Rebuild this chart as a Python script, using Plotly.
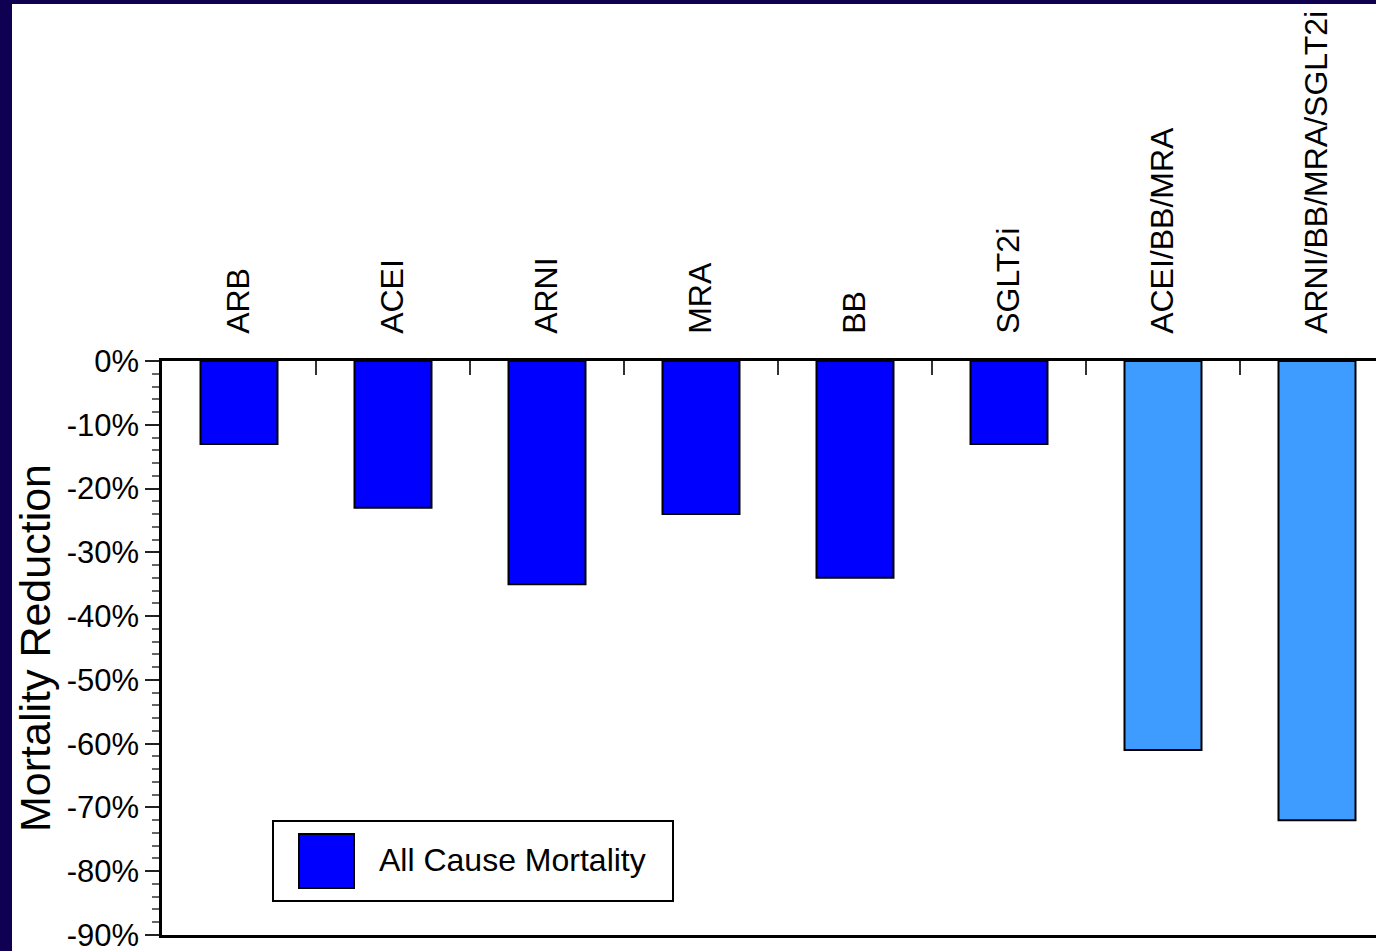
import plotly.graph_objects as go

# Heart-failure therapies and their relative reduction in all-cause mortality
therapies = ["ARB", "ACEI", "ARNI", "MRA", "BB", "SGLT2i",
             "ACEI/BB/MRA", "ARNI/BB/MRA/SGLT2i"]
mortality_reduction = [-13, -23, -35, -24, -34, -13, -61, -72]
series_name = "All Cause Mortality"
y_tick_values = [0, -10, -20, -30, -40, -50, -60, -70, -80, -90]
y_tick_labels = ["0%", "-10%", "-20%", "-30%", "-40%",
                 "-50%", "-60%", "-70%", "-80%", "-90%"]

# styling
SINGLE_COLOR = "#0000ff"
COMBO_COLOR = "#3e9bff"
NAVY = "#0f0052"
FONT = "Liberation Sans, Arial, Helvetica, sans-serif"

W, H = 1376, 951
ML, MR, MT, MB = 162, 0, 361, 16
PW, PH = W - ML - MR, H - MT - MB
CAT_PX = 154  # pixel width of one category slot


def fx(px):
    """pixel x -> paper x"""
    return (px - ML) / PW


def fy(py):
    """pixel y (from top) -> paper y"""
    return (H - MB - py) / PH


bar_colors = [COMBO_COLOR if "/" in t else SINGLE_COLOR for t in therapies]

fig = go.Figure(
    go.Bar(
        x=therapies,
        y=mortality_reduction,
        name=series_name,
        width=0.5,
        marker=dict(color=bar_colors, line=dict(color="black", width=2)),
        showlegend=False,
        hoverinfo="x+y",
    )
)

fig.update_layout(
    width=W,
    height=H,
    margin=dict(l=ML, r=MR, t=MT, b=MB, autoexpand=False),
    paper_bgcolor="white",
    plot_bgcolor="white",
    font=dict(family=FONT, color="black", size=31),
    bargap=0.5,
)

fig.update_xaxes(
    type="category",
    side="top",
    range=[-0.5, -0.5 + PW / CAT_PX],
    tickangle=-90,
    tickfont=dict(size=32),
    ticks="inside",
    tickson="boundaries",
    ticklen=14,
    tickwidth=1.5,
    tickcolor="#333",
    ticklabelstandoff=18,
    showline=True,
    linecolor="black",
    linewidth=2.5,
    mirror=True,
    showgrid=False,
    zeroline=False,
    automargin=False,
)

fig.update_yaxes(
    range=[-90, 0],
    tickmode="array",
    tickvals=y_tick_values,
    ticktext=y_tick_labels,
    tickfont=dict(size=31),
    ticklabeloverflow="allow",
    ticks="outside",
    ticklen=14,
    tickwidth=2,
    tickcolor="#222",
    minor=dict(dtick=2, ticks="outside", ticklen=7, tickwidth=1.5, tickcolor="#666"),
    showline=True,
    linecolor="black",
    linewidth=2.5,
    showgrid=False,
    zeroline=False,
    title=dict(text="Mortality Reduction", font=dict(size=43), standoff=3),
    automargin=False,
)

# navy frame strips along the left and top edges
fig.add_shape(type="rect", xref="paper", yref="paper",
              x0=fx(0), x1=fx(12), y0=fy(H), y1=fy(0),
              fillcolor=NAVY, line_width=0, layer="above")
fig.add_shape(type="rect", xref="paper", yref="paper",
              x0=fx(0), x1=fx(W), y0=fy(4), y1=fy(0),
              fillcolor=NAVY, line_width=0, layer="above")

# legend box with large swatch
fig.add_shape(type="rect", xref="paper", yref="paper",
              x0=fx(273), x1=fx(673), y0=fy(901), y1=fy(821),
              fillcolor="white", line=dict(color="black", width=2), layer="above")
fig.add_shape(type="rect", xref="paper", yref="paper",
              x0=fx(299), x1=fx(354), y0=fy(888), y1=fy(834),
              fillcolor=SINGLE_COLOR, line=dict(color="black", width=2), layer="above")
fig.add_annotation(xref="paper", yref="paper", x=fx(377), y=fy(860),
                   text=series_name, showarrow=False,
                   xanchor="left", yanchor="middle",
                   font=dict(size=32, family=FONT, color="black"))

fig.write_html("out.html")
